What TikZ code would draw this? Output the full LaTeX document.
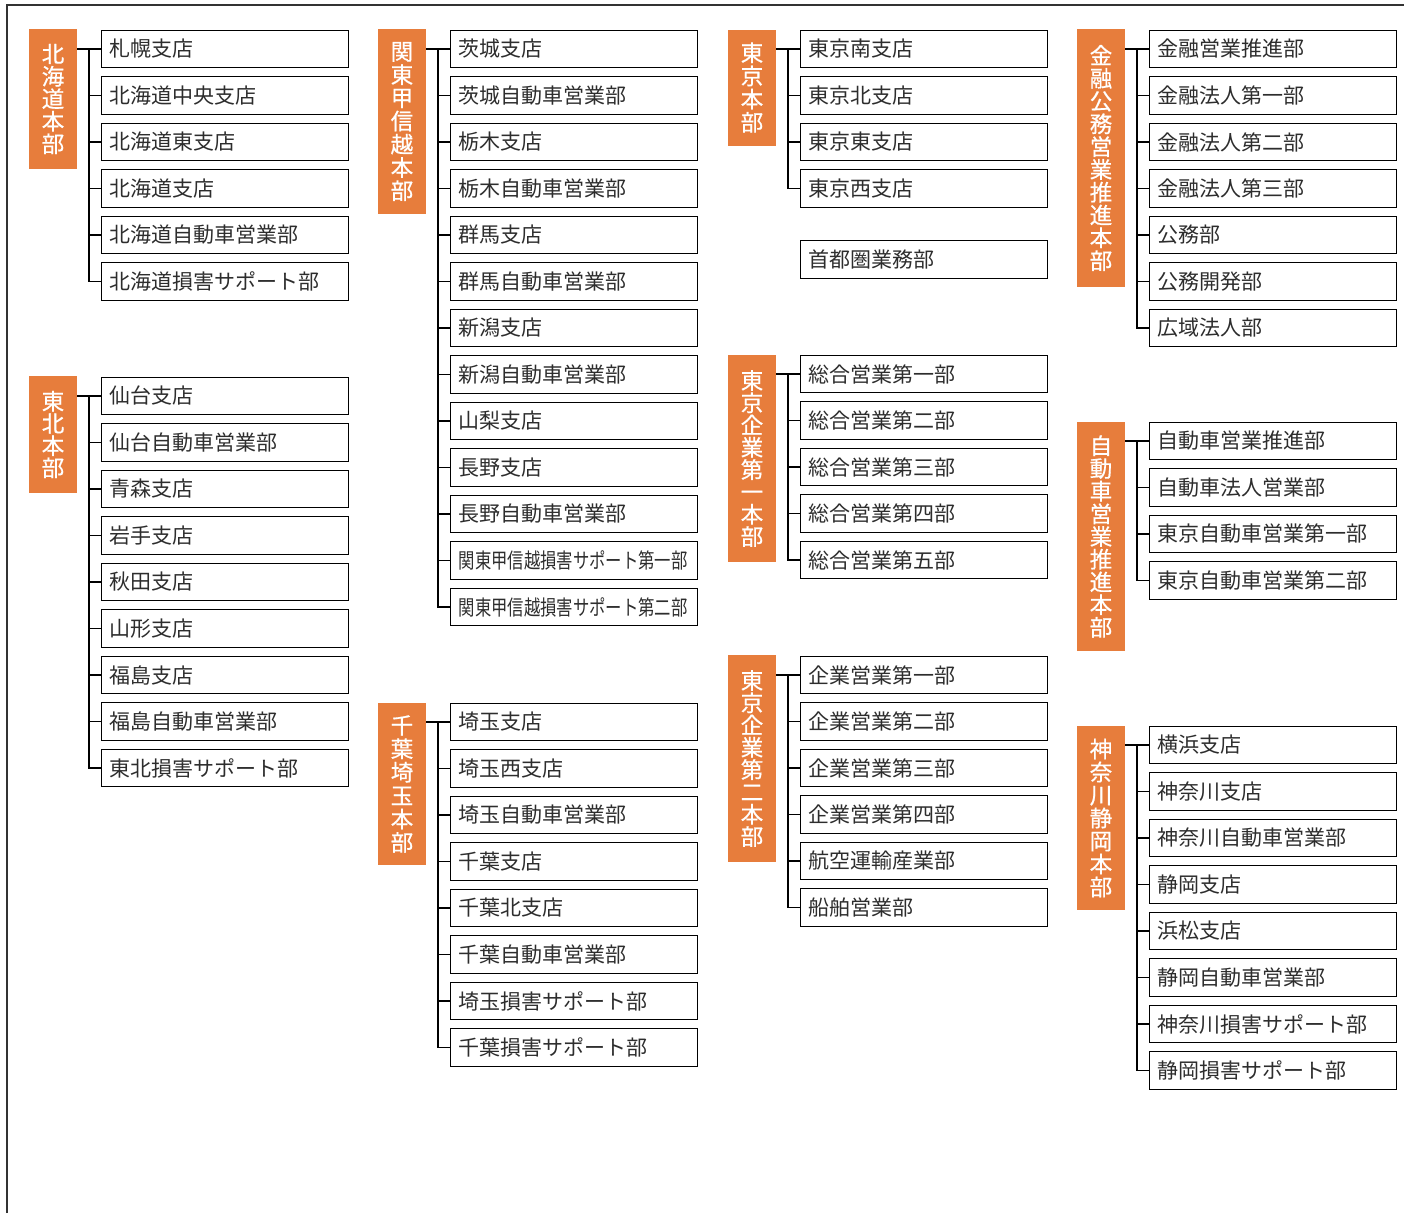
\documentclass[tikz,border=0pt]{standalone}
\usepackage{fontspec}
\usepackage{graphicx}
\setmainfont{Noto Sans CJK JP}
\newfontfamily\hqfont[FakeBold=0.6]{Noto Sans CJK JP}
\definecolor{hqorange}{RGB}{231,125,60}
\definecolor{textgray}{RGB}{45,45,45}
\definecolor{framegray}{RGB}{50,50,50}
\newcommand\kids[4]{%
  \foreach \t [count=\i from 1] in {#4} {
    \node[unit] (#1\i) at (#2, {#3+46.5*(\i-1)}) {\t};
  }%
}
\newcommand\tree[3]{%
  \coordinate (#1j) at ([xshift=12pt]#1.east);
  \draw[link] (#1.east |- #21.west) -- (#21.west);
  \draw[link] (#1j |- #21.west) |- (#2#3.west);
  \foreach \i in {2,...,#3} \draw[link] (#1j |- #2\i.west) -- (#2\i.west);
}
\newcommand\hqf[1]{\hqfont\fontsize{22.5}{#1}\selectfont}
\newcommand\narrow[1]{\resizebox{229pt}{\height}{#1}}
\begin{document}
\begin{tikzpicture}[x=1pt,y=-1pt,
  hqbox/.style={fill=hqorange, text=white, inner sep=0pt, minimum width=48pt, align=center},
  unit/.style={draw=black, line width=1.4pt, text=textgray, anchor=west, minimum height=37.5pt,
    inner xsep=8pt, inner ysep=0pt, text width=231pt, align=left, font=\fontsize{21}{24}\selectfont},
  link/.style={line width=1.5pt, black}]
\useasboundingbox (0,0) rectangle (1404,1213);
\lineskiplimit=-20pt
% frame
\draw[line width=2pt, framegray] (7,1213) -- (7,5) -- (1404,5);

% ---------- column 1
\node[hqbox, minimum height=140pt, font=\hqf{22.5}] (HA) at (53,99) {北\\海\\道\\本\\部};
\kids{a}{101}{49}{札幌支店,北海道中央支店,北海道東支店,北海道支店,北海道自動車営業部,北海道損害サポート部}
\tree{HA}{a}{6}

\node[hqbox, minimum height=117pt, font=\hqf{22.2}] (HB) at (53,434.5) {東\\北\\本\\部};
\kids{b}{101}{396}{仙台支店,仙台自動車営業部,青森支店,岩手支店,秋田支店,山形支店,福島支店,福島自動車営業部,東北損害サポート部}
\tree{HB}{b}{9}

% ---------- column 2
\node[hqbox, minimum height=185pt, font=\hqf{23.2}] (HC) at (402,121.5) {関\\東\\甲\\信\\越\\本\\部};
\kids{c}{450}{49}{茨城支店,茨城自動車営業部,栃木支店,栃木自動車営業部,群馬支店,群馬自動車営業部,新潟支店,新潟自動車営業部,山梨支店,長野支店,長野自動車営業部,{\narrow{関東甲信越損害サポート第一部}},{\narrow{関東甲信越損害サポート第二部}}}
\tree{HC}{c}{13}

\node[hqbox, minimum height=162pt, font=\hqf{23.4}] (HD) at (402,784) {千\\葉\\埼\\玉\\本\\部};
\kids{d}{450}{722}{埼玉支店,埼玉西支店,埼玉自動車営業部,千葉支店,千葉北支店,千葉自動車営業部,埼玉損害サポート部,千葉損害サポート部}
\tree{HD}{d}{8}

% ---------- column 3
\node[hqbox, minimum height=116pt, font=\hqf{23.2}] (HE) at (752,87.5) {東\\京\\本\\部};
\kids{e}{800}{49}{東京南支店,東京北支店,東京東支店,東京西支店}
\tree{HE}{e}{4}
\node[unit] (shuto) at (800,259.5) {首都圏業務部};

\node[hqbox, minimum height=207pt, font=\hqf{22.3}] (HF) at (752,458.5) {東\\京\\企\\業\\第\\一\\本\\部};
\kids{f}{800}{374}{総合営業第一部,総合営業第二部,総合営業第三部,総合営業第四部,総合営業第五部}
\tree{HF}{f}{5}

\node[hqbox, minimum height=207pt, font=\hqf{22.3}] (HG) at (752,758.5) {東\\京\\企\\業\\第\\二\\本\\部};
\kids{g}{800}{675}{企業営業第一部,企業営業第二部,企業営業第三部,企業営業第四部,航空運輸産業部,船舶営業部}
\tree{HG}{g}{6}

% ---------- column 4
\node[hqbox, minimum height=258pt, font=\hqf{22.8}] (HH) at (1101,158) {金\\融\\公\\務\\営\\業\\推\\進\\本\\部};
\kids{h}{1149}{49}{金融営業推進部,金融法人第一部,金融法人第二部,金融法人第三部,公務部,公務開発部,広域法人部}
\tree{HH}{h}{7}

\node[hqbox, minimum height=229pt, font=\hqf{22.7}] (HI) at (1101,536.5) {自\\動\\車\\営\\業\\推\\進\\本\\部};
\kids{i}{1149}{441}{自動車営業推進部,自動車法人営業部,東京自動車営業第一部,東京自動車営業第二部}
\tree{HI}{i}{4}

\node[hqbox, minimum height=184pt, font=\hqf{23}] (HJ) at (1101,818) {神\\奈\\川\\静\\岡\\本\\部};
\kids{j}{1149}{745}{横浜支店,神奈川支店,神奈川自動車営業部,静岡支店,浜松支店,静岡自動車営業部,神奈川損害サポート部,静岡損害サポート部}
\tree{HJ}{j}{8}
\end{tikzpicture}
\end{document}
